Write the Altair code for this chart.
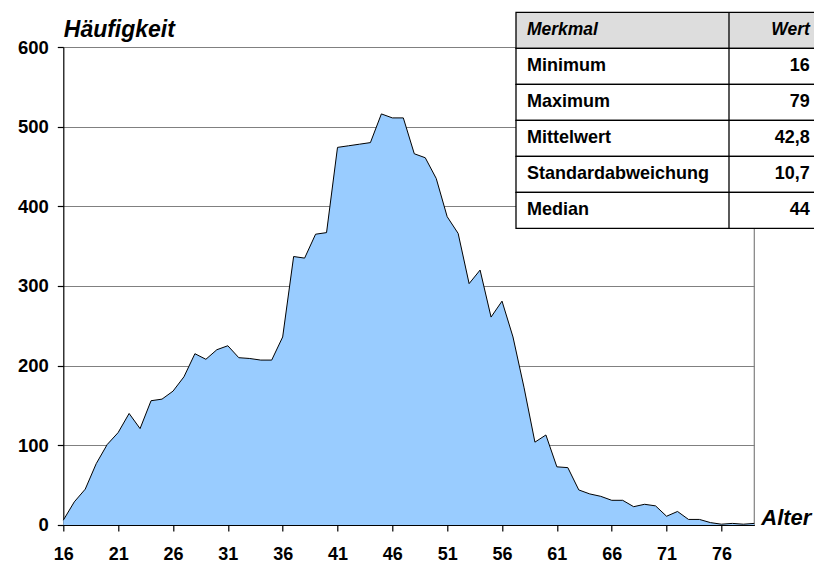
import altair as alt
import pandas as pd

# ---- data ----
ages = list(range(16, 80))
counts = [6, 29, 45, 77, 101, 116, 140, 121, 156, 158,
          168, 186, 215, 208, 220, 225, 210, 209, 207, 207,
          236, 337, 335, 365, 367, 474, 476, 478, 480, 516,
          511, 511, 466, 461, 435, 387, 366, 303, 320, 261,
          281, 236, 173, 104, 113, 73, 72, 44, 39, 36,
          31, 31, 23, 26, 24, 11, 17, 7, 7, 3,
          1, 2, 1, 2]
x_ticks = [16, 21, 26, 31, 36, 41, 46, 51, 56, 61, 66, 71, 76]
y_ticks = [0, 100, 200, 300, 400, 500, 600]
table_header = ["Merkmal", "Wert"]
table_labels = ["Minimum", "Maximum", "Mittelwert", "Standardabweichung", "Median"]
table_values = ["16", "79", "42,8", "10,7", "44"]
y_title = "Häufigkeit"
x_title = "Alter"

FONT = "Liberation Sans"
W, H = 691, 478

df = pd.DataFrame({"age": ages, "count": counts})
one = alt.Data(values=[{}])

border = alt.Chart(one).mark_rule(color="#808080", strokeWidth=1.2).encode(
    x=alt.value(W), y=alt.value(0), y2=alt.value(H)
)

area = alt.Chart(df).mark_area(
    color="#99CCFF", opacity=1,
    line={"color": "black", "strokeWidth": 1},
).encode(
    x=alt.X("age:Q",
            scale=alt.Scale(domain=[16, 79], nice=False, zero=False),
            axis=alt.Axis(values=x_ticks, title=None, grid=False, zindex=1,
                          tickSize=6, labelPadding=15, labelFlush=False)),
    y=alt.Y("count:Q",
            scale=alt.Scale(domain=[0, 600], nice=False),
            axis=alt.Axis(values=y_ticks, title=None, grid=True,
                          tickSize=6, labelPadding=9, labelFontSize=18.5)),
)

# ---- statistics table (annotation) ----
TX0, TX1, TXD = 452.7, 751.5, 665.7
TY0, ROW = -34.7, 36.0
layers = []
layers.append(alt.Chart(one).mark_rect(fill="#DDDDDD", stroke="black", strokeWidth=1.3).encode(
    x=alt.value(TX0), x2=alt.value(TX1), y=alt.value(TY0), y2=alt.value(TY0 + ROW)))
for k in range(len(table_labels)):
    y0 = TY0 + ROW * (k + 1)
    layers.append(alt.Chart(one).mark_rect(fill="white", stroke="black", strokeWidth=1.3).encode(
        x=alt.value(TX0), x2=alt.value(TX1), y=alt.value(y0), y2=alt.value(y0 + ROW)))
layers.append(alt.Chart(one).mark_rule(color="black", strokeWidth=1.3).encode(
    x=alt.value(TXD), y=alt.value(TY0), y2=alt.value(TY0 + ROW * (len(table_labels) + 1))))

hdr_style = dict(font=FONT, fontSize=17.5, fontWeight="bold", fontStyle="italic",
                 color="black", baseline="middle")
layers.append(alt.Chart(one).mark_text(text=table_header[0], align="left", **hdr_style).encode(
    x=alt.value(TX0 + 11), y=alt.value(TY0 + ROW / 2)))
layers.append(alt.Chart(one).mark_text(text=table_header[1], align="right", **hdr_style).encode(
    x=alt.value(TX1 - 5), y=alt.value(TY0 + ROW / 2)))

cell_style = dict(font=FONT, fontSize=18, fontWeight="bold", color="black", baseline="middle")
for k, (lab, val) in enumerate(zip(table_labels, table_values)):
    yc = TY0 + ROW * (k + 1) + ROW / 2
    layers.append(alt.Chart(one).mark_text(text=lab, align="left", **cell_style).encode(
        x=alt.value(TX0 + 11), y=alt.value(yc)))
    layers.append(alt.Chart(one).mark_text(text=val, align="right", **cell_style).encode(
        x=alt.value(TX1 - 5), y=alt.value(yc)))

ytitle = alt.Chart(one).mark_text(
    text=y_title, font=FONT, fontSize=23, fontWeight="bold", fontStyle="italic",
    color="black", baseline="alphabetic", align="left",
).encode(x=alt.value(0.5), y=alt.value(-10))
xtitle = alt.Chart(one).mark_text(
    text=x_title, font=FONT, fontSize=22, fontWeight="bold", fontStyle="italic",
    color="black", baseline="alphabetic", align="left",
).encode(x=alt.value(W + 7), y=alt.value(H))

chart = alt.layer(border, area, *layers, ytitle, xtitle).properties(
    width=W, height=H,
    padding={"left": 55.3, "top": 39, "right": 60, "bottom": 40},
    autosize=alt.AutoSizeParams(type="none"),
).configure_view(stroke=None).configure_axis(
    labelFont=FONT, labelFontSize=18, labelFontWeight="bold", labelColor="black",
    domainColor="black", domainWidth=1.2, tickColor="black", tickWidth=1.2,
    gridColor="#808080", gridWidth=1.2,
)

chart.save("out.html", embed_options={"renderer": "svg", "actions": False})
